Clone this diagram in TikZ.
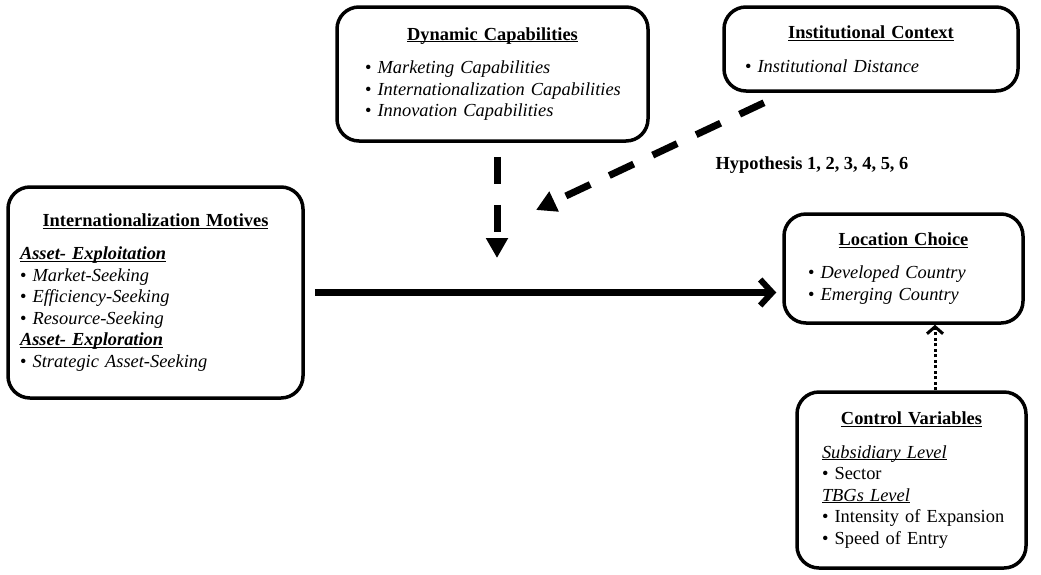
\documentclass[tikz,border=0pt]{standalone}
\usepackage{fontspec}
\setmainfont{Liberation Serif}
\usetikzlibrary{arrows.meta,positioning}

\newcommand{\uln}[1]{\underline{\smash{#1}}\vphantom{#1}}
\newcommand{\boxhead}[1]{\null\hfill\uln{\textbf{#1}}\hfill\null}
\newcommand{\bitem}[1]{\mbox{\textbullet\ \textit{#1}}}

\tikzset{
  block/.style={draw,line width=3.5pt,rounded corners=22pt,align=left,
    font=\fontsize{18.4}{21.5}\selectfont},
  mainarrow/.style={line width=6.5pt,-{Straight Barb[length=12pt,width=26pt,line width=6pt]}},
  modarrow/.style={line width=7pt,dash pattern=on 27pt off 21pt,
    -{Triangle[length=20pt,width=21pt]}},
  ctrlarrow/.style={line width=3pt,dash pattern=on 3pt off 2.5pt,
    -{Straight Barb[length=7pt,width=16pt,line width=3pt]}}
}

\begin{document}
\begin{tikzpicture}[x=1pt,y=-1pt]
\useasboundingbox (0,0) rectangle (1041,574);

\node[block,minimum width=295pt,minimum height=211pt,inner xsep=12pt,text width=271pt] (motives) at (155.5,292.5)
  {\boxhead{Internationalization Motives}\\[12pt]
   \uln{\textbf{\textit{Asset- Exploitation}}}\\
   \bitem{Market-Seeking}\\
   \bitem{Efficiency-Seeking}\\
   \bitem{Resource-Seeking}\\
   \uln{\textbf{\textit{Asset- Exploration}}}\\
   \bitem{Strategic Asset-Seeking}};

\node[block,minimum width=311pt,minimum height=134pt,inner xsep=28pt,text width=255pt] (dyncap) at (492.5,74)
  {\boxhead{Dynamic Capabilities}\\[12pt]
   \bitem{Marketing Capabilities}\\
   \bitem{Internationalization Capabilities}\\
   \bitem{Innovation Capabilities}};

\node[block,minimum width=294pt,minimum height=84pt,inner xsep=21pt,text width=252pt] (institution) at (871,49)
  {\boxhead{Institutional Context}\\[12pt]
   \bitem{Institutional Distance}};

\node[block,minimum width=239pt,minimum height=109pt,inner xsep=24pt,text width=191pt] (location) at (903.5,268.5)
  {\boxhead{Location Choice}\\[12pt]
   \bitem{Developed Country}\\
   \bitem{Emerging Country}};

\node[block,minimum width=229pt,minimum height=176pt,inner xsep=25pt,text width=179pt] (control) at (911.5,480)
  {\boxhead{Control Variables}\\[12pt]
   \uln{\textit{Subsidiary Level}}\\
   \textbullet\ Sector\\
   \uln{\textit{TBGs Level}}\\
   \mbox{\textbullet\ Intensity of Expansion}\\
   \textbullet\ Speed of Entry};

\node[font=\fontsize{18.4}{21.5}\selectfont\bfseries] (hypo) at (812,165) {Hypothesis 1, 2, 3, 4, 5, 6};

% moderating effects
\coordinate (tipA) at (497,258);
\coordinate (tipB) at (536,210);

\draw[mainarrow] ([xshift=10pt]motives.east) -- ([xshift=-6pt]motives.east -| location.west);
\draw[modarrow] ([xshift=4.5pt,yshift=-14pt]dyncap.south) -- (tipA);
\draw[modarrow] ([shift={(-107pt,-10pt)}]institution.south) -- (tipB);
\draw[ctrlarrow] ([xshift=23.5pt]control.north) -- ([xshift=23.5pt]control.north |- location.south);
\end{tikzpicture}
\end{document}
